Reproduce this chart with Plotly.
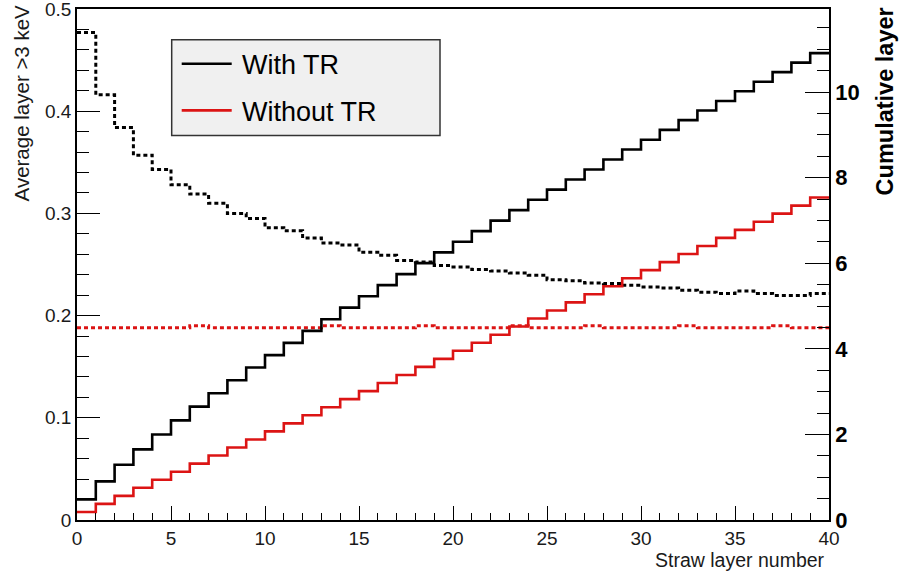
import plotly.graph_objects as go
import numpy as np

# ---------------- data ----------------
layer_edges = list(range(41))  # straw layer number bin edges 0..40

# average probability of a hit > 3 keV in each layer (left axis)
avg_with_tr = [0.477, 0.416, 0.384, 0.357, 0.343, 0.328, 0.319, 0.310, 0.300, 0.295,
               0.286, 0.283, 0.276, 0.271, 0.269, 0.262, 0.259, 0.254, 0.2525, 0.249,
               0.2476, 0.245, 0.2437, 0.2418, 0.2395, 0.235, 0.234, 0.232, 0.2314, 0.2297,
               0.228, 0.227, 0.2248, 0.2229, 0.2216, 0.2241, 0.2216, 0.2196, 0.2196, 0.2216]
avg_without_tr = [0.188, 0.188, 0.188, 0.188, 0.188, 0.188, 0.190, 0.188, 0.188, 0.188,
                  0.188, 0.188, 0.188, 0.190, 0.188, 0.188, 0.188, 0.188, 0.190, 0.188,
                  0.188, 0.188, 0.188, 0.190, 0.188, 0.188, 0.188, 0.190, 0.188, 0.188,
                  0.188, 0.188, 0.190, 0.188, 0.188, 0.188, 0.188, 0.190, 0.188, 0.188]

# cumulative number of layers (right axis)
cum_with_tr = [0.482, 0.902, 1.290, 1.650, 1.997, 2.328, 2.650, 2.963, 3.266, 3.564,
               3.853, 4.139, 4.418, 4.691, 4.963, 5.228, 5.489, 5.746, 6.001, 6.253,
               6.502, 6.750, 6.996, 7.241, 7.482, 7.719, 7.956, 8.190, 8.424, 8.656,
               8.886, 9.115, 9.343, 9.568, 9.792, 10.018, 10.241, 10.464, 10.686, 10.909]
cum_without_tr = [0.188, 0.376, 0.564, 0.752, 0.940, 1.128, 1.318, 1.506, 1.694, 1.882,
                  2.070, 2.258, 2.446, 2.636, 2.824, 3.012, 3.200, 3.388, 3.578, 3.766,
                  3.954, 4.142, 4.330, 4.520, 4.708, 4.896, 5.084, 5.274, 5.462, 5.650,
                  5.838, 6.026, 6.216, 6.404, 6.592, 6.780, 6.968, 7.158, 7.346, 7.534]

series_names = ["With TR", "Without TR"]
left_ticks = [0, 0.1, 0.2, 0.3, 0.4, 0.5]
left_labels = ["0", "0.1", "0.2", "0.3", "0.4", "0.5"]
right_ticks = [0, 2, 4, 6, 8, 10]
x_ticks = [0, 5, 10, 15, 20, 25, 30, 35, 40]

BLACK = "#000000"
RED = "#dc1414"
FONT = "Liberation Sans, Arial, Helvetica, sans-serif"


def step(vals):
    return list(vals) + [vals[-1]]


fig = go.Figure()

fig.add_trace(go.Scatter(x=layer_edges, y=step(avg_with_tr), mode="lines", line_shape="hv",
                         line=dict(color=BLACK, width=3, dash="4px,3px"),
                         name=series_names[0] + " (average)", showlegend=False, yaxis="y"))
fig.add_trace(go.Scatter(x=layer_edges, y=step(avg_without_tr), mode="lines", line_shape="hv",
                         line=dict(color=RED, width=3, dash="4px,3px"),
                         name=series_names[1] + " (average)", showlegend=False, yaxis="y"))
fig.add_trace(go.Scatter(x=layer_edges, y=step(cum_with_tr), mode="lines", line_shape="hv",
                         line=dict(color=BLACK, width=2.6),
                         name=series_names[0], showlegend=False, yaxis="y2"))
fig.add_trace(go.Scatter(x=layer_edges, y=step(cum_without_tr), mode="lines", line_shape="hv",
                         line=dict(color=RED, width=2.6),
                         name=series_names[1], showlegend=False, yaxis="y2"))

# plot area in pixels: x 77..829, y 8.5..520
L, R, T, B = 77, 829, 8.5, 520
W, H = R - L, B - T


def px(xp):
    return (xp - L) / W


def py(yp):
    return (B - yp) / H


fig.update_layout(
    width=900, height=571,
    margin=dict(l=L, r=900 - R, t=T, b=571 - B, pad=0, autoexpand=False),
    paper_bgcolor="white", plot_bgcolor="white",
    font=dict(family=FONT, color="#1a1a1a"),
    showlegend=False,
    xaxis=dict(range=[0, 40], tickvals=x_ticks, ticks="inside", ticklen=14, tickwidth=1.4,
               tickcolor="black", showline=True, linecolor="black", linewidth=1.5, mirror=True,
               showgrid=False, zeroline=False, ticklabeloverflow="allow", automargin=False,
               tickfont=dict(size=19, family=FONT, color="#1a1a1a"),
               minor=dict(dtick=1, ticks="inside", ticklen=7, tickwidth=1.2, tickcolor="black", showgrid=False)),
    yaxis=dict(range=[0, 0.50002], tickvals=left_ticks, ticktext=left_labels,
               ticks="inside", ticklen=23, tickwidth=1.4, tickcolor="black",
               showline=True, linecolor="black", linewidth=1.5, showgrid=False, zeroline=False,
               ticklabeloverflow="allow", automargin=False,
               tickfont=dict(size=19, family=FONT, color="#1a1a1a"),
               minor=dict(dtick=0.02, ticks="inside", ticklen=12, tickwidth=1.2, tickcolor="black", showgrid=False)),
    yaxis2=dict(range=[0, 11.94], overlaying="y", side="right", tickvals=right_ticks,
                ticks="inside", ticklen=24, tickwidth=1.4, tickcolor="black",
                showline=True, linecolor="black", linewidth=1.5, showgrid=False, zeroline=False,
                ticklabeloverflow="allow", automargin=False,
                tickfont=dict(size=22, family=FONT, color="black", weight="bold"),
                minor=dict(dtick=0.5, ticks="inside", ticklen=12, tickwidth=1.2, tickcolor="black", showgrid=False)),
)

# legend box drawn as layout shapes
fig.add_shape(type="rect", xref="paper", yref="paper",
              x0=px(171.7), x1=px(440), y0=py(135), y1=py(39.3),
              fillcolor="#f0f0f0", line=dict(color="#333333", width=1.5), layer="above")
fig.add_shape(type="line", xref="paper", yref="paper", x0=px(181.7), x1=px(231.7),
              y0=py(63.3), y1=py(63.3), line=dict(color=BLACK, width=2.6), layer="above")
fig.add_shape(type="line", xref="paper", yref="paper", x0=px(181.7), x1=px(231.7),
              y0=py(110), y1=py(110), line=dict(color=RED, width=2.6), layer="above")

annots = [
    dict(text=series_names[0], x=px(240), y=py(65), xanchor="left", yanchor="middle",
         font=dict(size=27, color="black")),
    dict(text=series_names[1], x=px(240), y=py(112), xanchor="left", yanchor="middle",
         font=dict(size=27, color="black")),
    dict(text="Straw layer number", x=px(827), y=py(560), xanchor="right", yanchor="middle",
         font=dict(size=19.5, color="#1a1a1a")),
    dict(text="Average layer >3 keV", x=px(21), y=py(103), xanchor="center", yanchor="middle",
         textangle=-90, font=dict(size=20.5, color="#1a1a1a")),
    dict(text="<b>Cumulative layer</b>", x=px(885), y=py(101), xanchor="center", yanchor="middle",
         textangle=-90, font=dict(size=23.5, color="black")),
]
for a in annots:
    fig.add_annotation(xref="paper", yref="paper", showarrow=False, **a)

fig.write_html("out.html")
